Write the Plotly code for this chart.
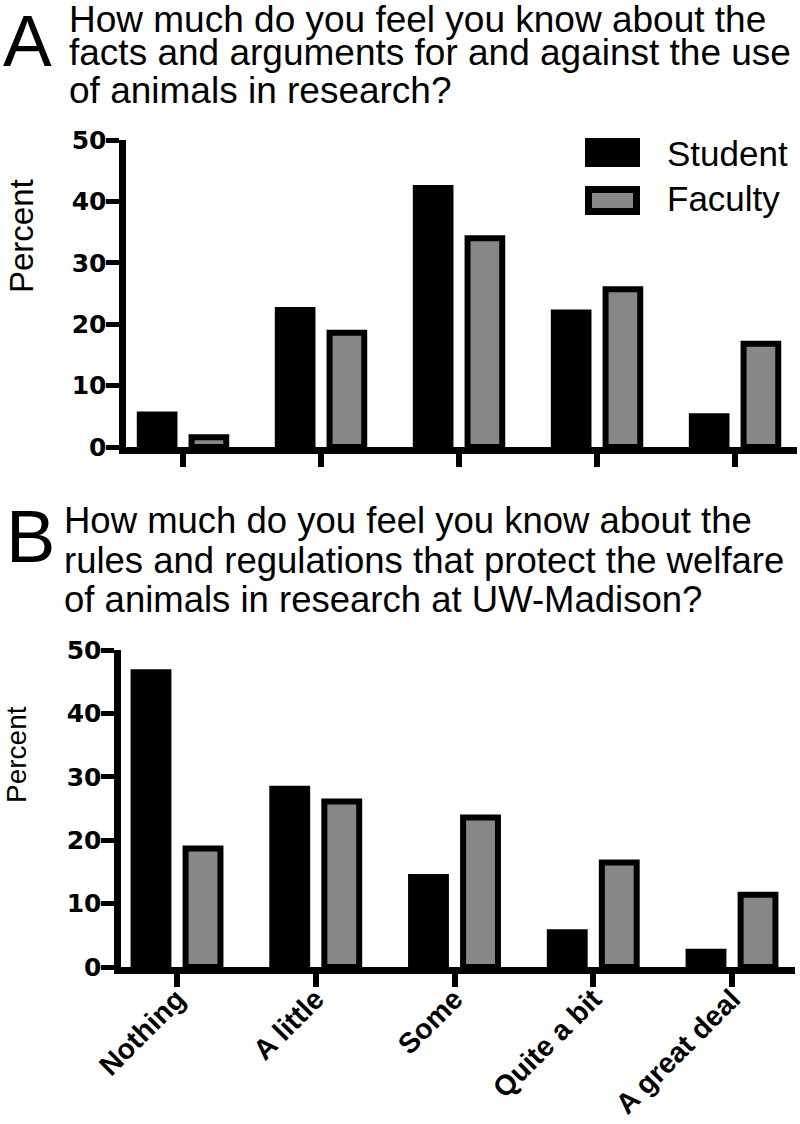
import plotly.graph_objects as go

# ---------------- data ----------------
categories = ["Nothing", "A little", "Some", "Quite a bit", "A great deal"]
series_names = ["Student", "Faculty"]
a_student = [5.3, 22.3, 42.2, 21.9, 5.0]
a_faculty = [1.6, 18.6, 34.0, 25.7, 16.8]
b_student = [46.5, 28.1, 14.2, 5.5, 2.4]
b_faculty = [18.7, 26.1, 23.6, 16.5, 11.4]
y_ticks = [0, 10, 20, 30, 40, 50]
panel_letters = ["A", "B"]
title_a = ["How much do you feel you know about the",
           "facts and arguments for and against the use",
           "of animals in research?"]
title_b = ["How much do you feel you know about the",
           "rules and regulations that protect the welfare",
           "of animals in research at UW-Madison?"]
y_label = "Percent"

W, H = 800, 1124
def px(x):
    return x / W
def py(y):
    return 1 - y / H

STUDENT_COLOR = "#000000"
FACULTY_COLOR = "#878787"
SANS = "Liberation Sans, Arial, sans-serif"

fig = go.Figure()
for vals, name, color, xa, ya in [
    (a_student, series_names[0], STUDENT_COLOR, "x", "y"),
    (a_faculty, series_names[1], FACULTY_COLOR, "x", "y"),
    (b_student, series_names[0], STUDENT_COLOR, "x2", "y2"),
    (b_faculty, series_names[1], FACULTY_COLOR, "x2", "y2"),
]:
    fig.add_trace(go.Bar(
        x=categories, y=vals, name=name, xaxis=xa, yaxis=ya,
        marker=dict(color=color, line=dict(color="black", width=6)),
        showlegend=False, hoverinfo="x+y+name"))

axis_common = dict(showline=True, linewidth=7, linecolor="black", showgrid=False,
                   zeroline=False, ticks="outside", tickcolor="black", automargin=False)
yfont = dict(family="DejaVu Sans, sans-serif", size=25, color="black", weight="bold")

fig.update_layout(
    template="none",
    width=W, height=H, autosize=False, margin=dict(l=0, r=0, t=0, b=0, pad=0),
    paper_bgcolor="white", plot_bgcolor="white", showlegend=False,
    barmode="group", bargap=0.25, bargroupgap=0.33,
    xaxis=dict(domain=[px(125.5), px(797)], anchor="y", type="category",
               range=[-0.4167, 4.449], ticklen=13, tickwidth=6,
               showticklabels=False, **axis_common),
    yaxis=dict(domain=[py(447), py(140)], anchor="x", range=[0, 50],
               tickvals=y_ticks, ticklen=13, tickwidth=5, tickfont=yfont,
               ticklabelstandoff=-6, **axis_common),
    xaxis2=dict(domain=[px(120.5), px(795)], anchor="y2", type="category",
                range=[-0.4072, 4.454], ticklen=13, tickwidth=6,
                tickangle=-45, ticklabelstandoff=-16,
                tickfont=dict(family=SANS, size=28.5, color="black", weight="bold"),
                **axis_common),
    yaxis2=dict(domain=[py(967), py(650)], anchor="x2", range=[0, 50],
                tickvals=y_ticks, ticklen=13, tickwidth=5, tickfont=yfont,
                ticklabelstandoff=-6, **axis_common),
)

ann = []
# panel letters
ann.append(dict(text=panel_letters[0], x=px(27), y=py(40.5), font=dict(family=SANS, size=73, color="black")))
ann.append(dict(text=panel_letters[1], x=px(30), y=py(536), font=dict(family=SANS, size=74, color="black")))
# titles
title_a_y = [19.5, 53, 90.5]
for line, yc in zip(title_a, title_a_y):
    ann.append(dict(text=line, x=px(67), y=py(yc), xanchor="left",
                    font=dict(family=SANS, size=37, color="black")))
for i, line in enumerate(title_b):
    ann.append(dict(text=line, x=px(62), y=py(520 + 40 * i), xanchor="left",
                    font=dict(family=SANS, size=36.5, color="black")))
# y labels
ann.append(dict(text=y_label, x=px(21), y=py(236), textangle=-90,
                font=dict(family=SANS, size=33, color="black")))
ann.append(dict(text=y_label, x=px(16), y=py(755), textangle=-90,
                font=dict(family=SANS, size=28, color="black")))
# legend labels
ann.append(dict(text=series_names[0], x=px(665), y=py(153), xanchor="left",
                font=dict(family=SANS, size=35, color="black")))
ann.append(dict(text=series_names[1], x=px(665), y=py(198), xanchor="left",
                font=dict(family=SANS, size=35, color="black")))
for a in ann:
    a.setdefault("xanchor", "center")
    a.update(xref="paper", yref="paper", yanchor="middle", showarrow=False)
fig.update_layout(annotations=ann)

shapes = [
    dict(type="rect", xref="paper", yref="paper", x0=px(585), x1=px(640), y0=py(167), y1=py(138),
         fillcolor=STUDENT_COLOR, line=dict(width=0)),
    dict(type="rect", xref="paper", yref="paper", x0=px(588.5), x1=px(636.5), y0=py(211.5), y1=py(189.5),
         fillcolor=FACULTY_COLOR, line=dict(color="black", width=7)),
]
fig.update_layout(shapes=shapes)

fig.write_html("out.html", config={"displayModeBar": False},
               post_script="document.body.style.margin='0';document.body.style.overflow='hidden';")
